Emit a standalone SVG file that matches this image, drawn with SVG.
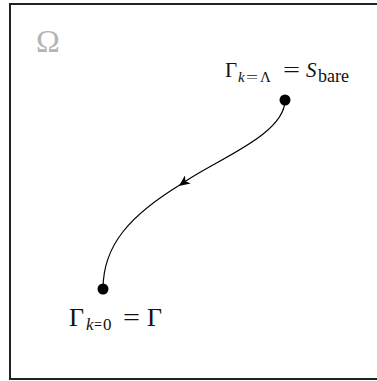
<svg xmlns="http://www.w3.org/2000/svg" width="377" height="381" viewBox="0 0 377 381">
<style>
.t{font-family:"Liberation Serif","DejaVu Serif",serif;fill:#111}
.i{font-style:italic}
.dot{fill:#000}
</style>
<defs>
<marker id="ah" markerWidth="12" markerHeight="10" refX="6" refY="5" orient="auto" markerUnits="userSpaceOnUse">
<path d="M0,0 L11,5 L0,10 L3,5 Z" fill="#000"/>
</marker>
</defs>
<rect x="0" y="0" width="377" height="381" fill="#fff"/>
<rect x="10" y="4" width="380" height="375" fill="none" stroke="#222" stroke-width="2"/>
<text x="36" y="52" font-family="Liberation Serif, DejaVu Serif, serif" font-size="32" fill="#b4b4b4">Ω</text>
<g id="connectors">
<path d="M285,100 C285,135 215,160 183,183" fill="none" stroke="#000" stroke-width="1.2" marker-end="url(#ah)"/>
<path d="M183,183 C130,215 103,245 103,289" fill="none" stroke="#000" stroke-width="1.2"/>
</g>
<g id="node-top">
<circle class="dot" cx="285" cy="100" r="5.5"/>
<text class="t" x="225" y="77" font-size="21">Γ</text>
<text class="t i" x="238" y="82" font-size="15">k</text>
<text class="t" x="246" y="82" font-size="15" textLength="12" lengthAdjust="spacingAndGlyphs">=</text>
<text class="t" x="260" y="82" font-size="15">Λ</text>
<text class="t" x="283" y="77" font-size="21" textLength="17" lengthAdjust="spacingAndGlyphs">=</text>
<text class="t i" x="306" y="77" font-size="21">S</text>
<text class="t" x="318" y="82" font-size="18">bare</text>
</g>
<g id="node-bottom">
<circle class="dot" cx="103" cy="289" r="5.5"/>
<text class="t" x="69" y="326" font-size="26">Γ</text>
<text class="t i" x="86" y="330" font-size="17">k</text>
<text class="t" x="94" y="330" font-size="17" textLength="8" lengthAdjust="spacingAndGlyphs">=</text>
<text class="t" x="103" y="330" font-size="17">0</text>
<text class="t" x="123" y="326" font-size="26" textLength="17" lengthAdjust="spacingAndGlyphs">=</text>
<text class="t" x="147" y="326" font-size="26">Γ</text>
</g>
</svg>
